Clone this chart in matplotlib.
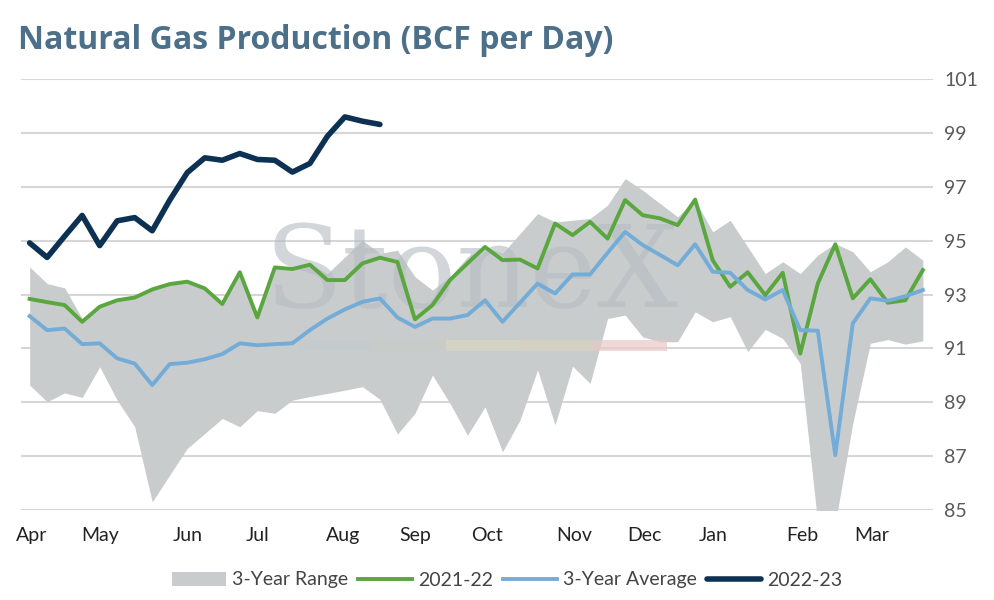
import matplotlib
matplotlib.use("Agg")
import matplotlib.pyplot as plt
import numpy as np

plt.rcParams["font.family"] = ["Lato", "DejaVu Sans"]

months = ["Apr", "May", "Jun", "Jul", "Aug", "Sep", "Oct", "Nov", "Dec", "Jan", "Feb", "Mar"]
month_pos = [0.1, 4, 9, 13, 17.9, 22, 26.1, 31.1, 35.1, 39, 44.1, 48.1]

range_low = [89.64, 89.02, 89.35, 89.18, 90.32, 89.08, 88.09, 85.30, 86.30, 87.29, 87.84, 88.40, 88.09,
             88.69, 88.59, 89.08, 89.21, 89.33, 89.45, 89.58, 89.11, 87.82, 88.59, 90.01, 88.96, 87.78,
             88.83, 87.16, 88.34, 90.20, 88.16, 90.34, 89.70, 92.11, 92.24, 91.43, 91.25, 91.25, 92.36,
             91.99, 92.18, 90.88, 91.71, 91.37, 90.44, 84.5, 84.5, 88.22, 91.19, 91.33, 91.16, 91.28]
range_high = [94.03, 93.41, 93.25, 92.11, 92.61, 92.86, 92.98, 93.29, 93.48, 93.54, 93.29, 92.73, 93.91,
              92.30, 94.03, 93.97, 94.16, 93.78, 94.40, 95.02, 94.53, 94.65, 93.66, 93.17, 93.66, 94.40,
              94.77, 94.53, 95.27, 96.01, 95.70, 95.76, 95.83, 96.32, 97.31, 96.88, 96.38, 95.89, 96.51,
              95.33, 95.76, 94.77, 93.78, 94.22, 93.78, 94.47, 94.90, 94.59, 93.85, 94.22, 94.77, 94.28]
y2021 = [92.84, 92.72, 92.61, 91.99, 92.55, 92.79, 92.89, 93.19, 93.39, 93.48, 93.23, 92.65, 93.83,
         92.15, 94.01, 93.95, 94.11, 93.54, 93.54, 94.16, 94.37, 94.21, 92.08, 92.61, 93.54, 94.16,
         94.77, 94.28, 94.30, 93.97, 95.64, 95.21, 95.70, 95.08, 96.51, 95.95, 95.83, 95.58, 96.53,
         94.28, 93.29, 93.83, 92.98, 93.81, 90.81, 93.41, 94.87, 92.86, 93.57, 92.70, 92.79, 93.91]
avg3 = [92.20, 91.68, 91.74, 91.16, 91.19, 90.63, 90.44, 89.64, 90.42, 90.47, 90.60, 90.79, 91.19,
        91.12, 91.16, 91.19, 91.68, 92.11, 92.45, 92.73, 92.86, 92.15, 91.80, 92.11, 92.11, 92.24,
        92.79, 91.99, 92.70, 93.41, 93.04, 93.75, 93.75, 94.55, 95.33, 94.84, 94.47, 94.09, 94.87,
        93.85, 93.81, 93.17, 92.82, 93.17, 91.68, 91.66, 87.04, 91.93, 92.86, 92.77, 92.94, 93.17]
y2022 = [94.92, 94.38, 95.17, 95.94, 94.82, 95.74, 95.86, 95.37, 96.51, 97.53, 98.08, 97.99, 98.24,
         98.02, 97.99, 97.55, 97.87, 98.88, 99.60, 99.44, 99.32]

fig = plt.figure(figsize=(9.94, 6), dpi=100)
ax = fig.add_axes([0.021, 0.15, 0.918, 0.718])

x = np.arange(len(range_low))
ax.fill_between(x, range_low, range_high, color="#c9cccd", lw=0, label="3-Year Range", zorder=1)

# faint watermark
ax.text(25.2, 93.7, "StoneX", fontsize=82, family="DejaVu Serif", color="#b5bcc4",
        alpha=0.6, ha="center", va="center", zorder=2)
for i, c in enumerate(["#c4cbcc", "#c8cdc8", "#d8d6c2", "#d9d3c0", "#e8c8c8"]):
    ax.add_patch(plt.Rectangle((15.4 + i * 4.2, 90.9), 4.2, 0.4, color=c, alpha=0.7, lw=0, zorder=2))

ax.plot(x, y2021, color="#5aa63f", lw=2.8, label="2021-22", zorder=3)
ax.plot(x, avg3, color="#74acd8", lw=2.8, label="3-Year Average", zorder=3)
ax.plot(np.arange(len(y2022)), y2022, color="#0d3152", lw=4, label="2022-23", zorder=4,
        solid_capstyle="round")

ax.set_xlim(-0.5, 51.6)
ax.set_ylim(85, 101)
ax.set_yticks(range(85, 102, 2))
ax.yaxis.tick_right()
ax.tick_params(axis="y", length=0, labelsize=14, labelcolor="#595959", pad=8)
ax.grid(axis="y", color="#d6d6d6", lw=1.5)
ax.set_axisbelow(True)
ax.set_xticks(month_pos)
ax.set_xticklabels(months)
ax.tick_params(axis="x", length=0, labelsize=14, labelcolor="#222222", pad=12)
for s in ax.spines.values():
    s.set_visible(False)

fig.text(0.018, 0.933, "Natural Gas Production (BCF per Day)", fontsize=23, fontweight="bold",
         family=["Open Sans", "DejaVu Sans"], color="#4c7089", va="center")

fig.legend(loc="lower center", bbox_to_anchor=(0.51, -0.01), ncol=4, frameon=False, fontsize=14,
           handlelength=2.8, columnspacing=0.5, handletextpad=0.3, labelcolor="#444444")

fig.savefig("out.png", dpi=100)
